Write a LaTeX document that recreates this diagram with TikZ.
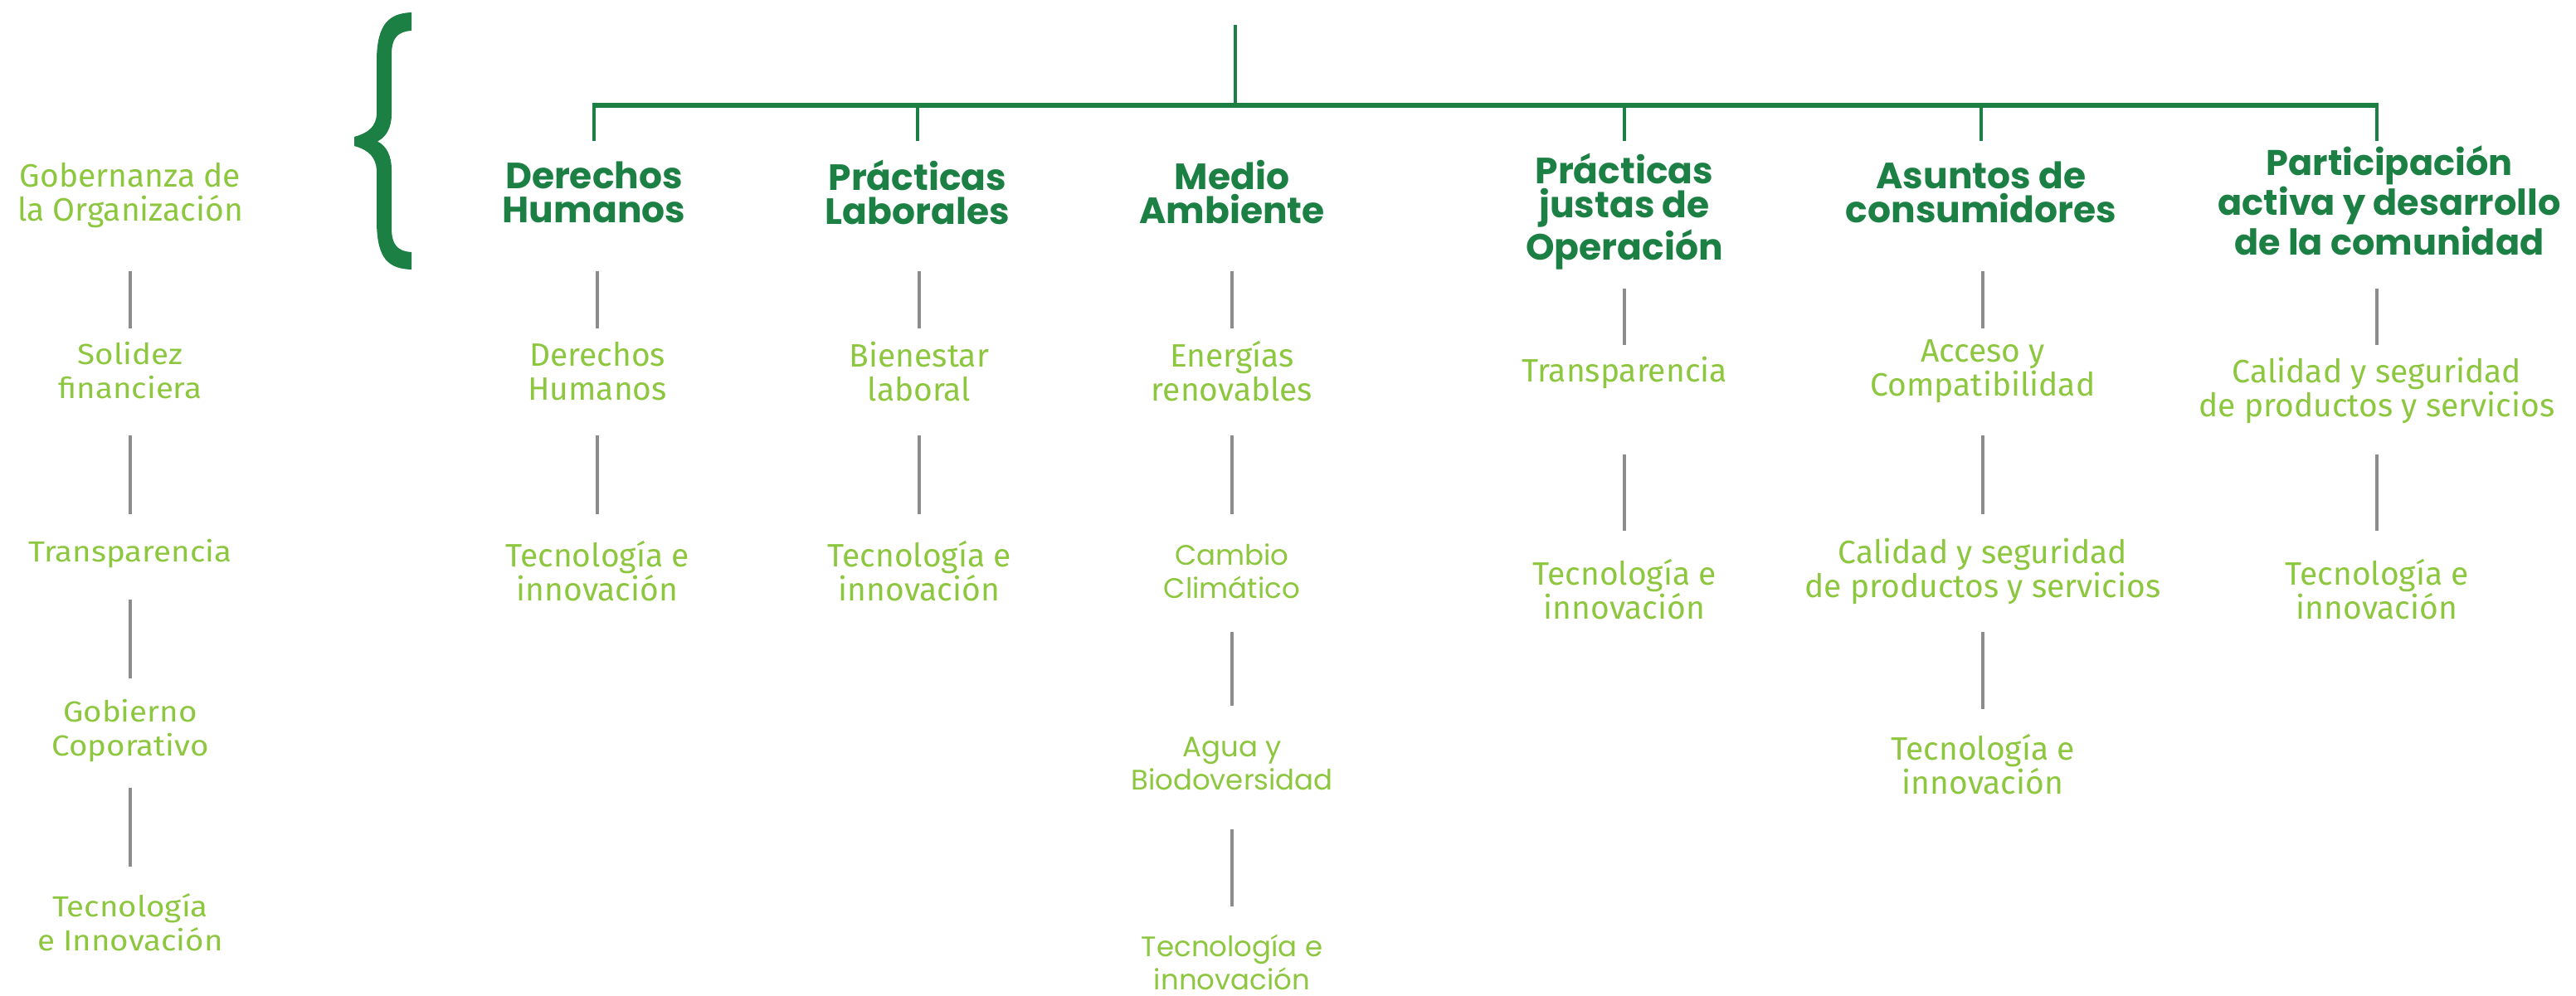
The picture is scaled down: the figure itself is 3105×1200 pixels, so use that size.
\documentclass[tikz,border=0pt]{standalone}
\usepackage{fontspec}
\setmainfont{Fira Sans}
\newfontfamily\firaf{Fira Sans}
\newfontfamily\firawf{Fira Sans}[FakeStretch=1.1]
\newfontfamily\popf{Poppins}
\definecolor{lgreen}{HTML}{8DC63F}
\definecolor{dgreen}{HTML}{1C8044}
\definecolor{lgray}{HTML}{8C8C8C}
\tikzset{
  hdr/.style={text=dgreen, font=\popf\bfseries\fontsize{22}{20.5}\selectfont, align=center, inner sep=0pt},
  itm/.style={text=lgreen, font=\firaf\fontsize{19.5}{20.5}\selectfont, align=center, inner sep=0pt},
  itmp/.style={itm, font=\popf\fontsize{17}{20}\selectfont},
  itmw/.style={itm, font=\firawf\fontsize{17.5}{20.5}\selectfont},
  gl/.style={draw=lgray, line width=2pt},
  drop/.style={draw=dgreen, line width=2pt},
  barline/.style={draw=dgreen, line width=2.8pt},
}
\newcommand\gconn[4]{\draw[gl] (#2 |- 0,#3) -- (#2 |- 0,#4);}
\begin{document}
\begin{tikzpicture}[x=0.5pt,y=-0.5pt]
\useasboundingbox (0,0) rectangle (3105,1200);

% brace
\fill[dgreen] (496,15) .. controls (468,16) and (455,30) .. (454,70) -- (454,138)
  .. controls (453,152) and (445,160) .. (427,165) -- (427,176)
  .. controls (445,181) and (453,190) .. (454,205) -- (454,270)
  .. controls (455,312) and (468,324) .. (496,325) -- (496,304)
  .. controls (480,303) and (472,296) .. (472,275) -- (472,205)
  .. controls (472,188) and (466,176) .. (455,170.5)
  .. controls (466,165) and (472,153) .. (472,138) -- (472,66)
  .. controls (472,45) and (480,38) .. (496,37) -- cycle;

% left column
\node[itm] (g0) at (157,236) {Gobernanza de\\la Organización};
\node[itmw] (g1) at (157,447) {Solidez\\financiera};
\node[itmw] (g2) at (157,668) {Transparencia};
\node[itmw] (g3) at (157,881) {Gobierno\\Coporativo};
\node[itmw] (g4) at (157,1112) {Tecnología\\e Innovación};
\gconn{g0}{g1}{327}{396}
\gconn{g1}{g2}{525}{620}
\gconn{g2}{g3}{723}{818}
\gconn{g3}{g4}{950}{1045}

% headers
\node[hdr] (h1) at (716,232) {Derechos\\Humanos};
\node[hdr] (h2) at (1106,232) {Prácticas\\Laborales};
\node[hdr] (h3) at (1485,232) {Medio\\Ambiente};
\node[hdr] (h4) at (1958,255) {Prácticas\\justas de\\Operación};
\node[hdr] (h5) at (2388,232) {Asuntos de\\consumidores};
\node[hdr, font=\popf\bfseries\fontsize{21.5}{20.5}\selectfont] (h6) at (2880,242) {Participación\\activa y desarrollo\\de la comunidad};
\coordinate (h6d) at (2865,170);

\coordinate (top) at (1489,30);
\draw[drop] (top) -- (top |- 0,127);
\draw[barline, shorten <=-1pt, shorten >=-1pt] (h1 |- 0,127) -- (h6d |- 0,127);
\foreach \h in {h1,h2,h4,h5,h6d}{\draw[drop] (\h |- 0,127) -- (\h |- 0,170);}

% Derechos Humanos
\node[itm] (d1) at (720,448) {Derechos\\Humanos};
\node[itm] (d2) at (720,689) {Tecnología e\\innovación};
\gconn{h1}{d1}{327}{396}
\gconn{d1}{d2}{525}{620}

% Practicas laborales
\node[itm] (p1) at (1108,448) {Bienestar\\laboral};
\node[itm] (p2) at (1108,689) {Tecnología e\\innovación};
\gconn{h2}{p1}{327}{396}
\gconn{p1}{p2}{525}{620}

% Medio ambiente
\node[itm] (m1) at (1485,448) {Energías\\renovables};
\node[itmp] (m2) at (1485,689) {Cambio\\Climático};
\node[itmp] (m3) at (1485,921) {Agua y\\Biodoversidad};
\node[itmp] (m4) at (1485,1160) {Tecnología e\\innovación};
\gconn{h3}{m1}{327}{396}
\gconn{m1}{m2}{525}{620}
\gconn{m2}{m3}{762}{851}
\gconn{m3}{m4}{1000}{1093}

% Practicas justas
\node[itm] (j1) at (1958,449) {Transparencia};
\node[itm] (j2) at (1958,711) {Tecnología e\\innovación};
\gconn{h4}{j1}{348}{416}
\gconn{j1}{j2}{548}{640}

% Asuntos de consumidores
\node[itm] (a1) at (2390,448) {Acceso y\\Compatibilidad};
\node[itm] (a2) at (2390,689) {Calidad y seguridad\\de productos y servicios};
\node[itm] (a3) at (2390,922) {Tecnología e\\innovación};
\gconn{h5}{a1}{327}{396}
\gconn{a1}{a2}{525}{620}
\gconn{a2}{a3}{762}{855}

% Participacion
\node[itm] (c1) at (2865,471) {Calidad y seguridad\\de productos y servicios};
\node[itm] (c2) at (2865,711) {Tecnología e\\innovación};
\gconn{h6d}{c1}{348}{416}
\gconn{c1}{c2}{548}{640}
\end{tikzpicture}
\end{document}
